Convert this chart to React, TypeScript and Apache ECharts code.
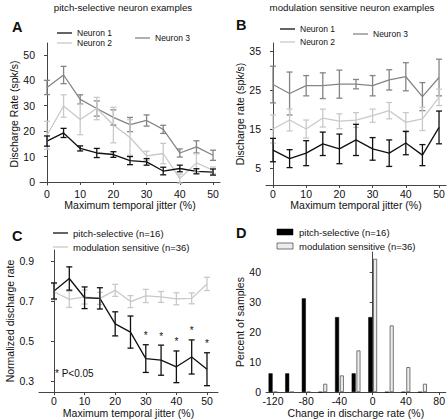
import React, { useEffect, useRef } from "react";
import * as echarts from "echarts";

const jitter = [0, 5, 10, 15, 20, 25, 30, 35, 40, 45, 50];

// Panel A: pitch-selective neuron examples (spk/s)
const aNeuron1 = [16.1, 19.3, 13.2, 11.4, 10.8, 8.4, 7.9, 4.3, 5.3, 4.2, 3.9];
const aNeuron1Err = [2, 1.8, 1, 1.8, 1.1, 1.6, 1.3, 1.5, 1.3, 1, 1.2];
const aNeuron2 = [18.4, 29.9, 24.6, 28.9, 22.4, 17.5, 10.3, 11.2, 1.3, 7.5, 4.6];
const aNeuron2Err = [5.5, 4.4, 6, 4.4, 7, 7, 1.8, 4, 1.8, 3.6, 1.3];
const aNeuron3 = [37.2, 42.1, 32.5, 28.9, 25.4, 22.6, 24.2, 20.7, 11.4, 13.8, 10.5];
const aNeuron3Err = [2.8, 3.4, 1.8, 3, 3, 2.8, 2.2, 1.6, 1.6, 2.4, 2];

// Panel B: modulation sensitive neuron examples (spk/s)
const bNeuron1 = [9.6, 7.4, 8.8, 11.2, 9.9, 12.2, 9.9, 8.8, 11.4, 8.3, 15.4];
const bNeuron1Err = [3, 2.3, 3.2, 3, 3.8, 4, 2.9, 3.4, 3, 2.7, 4.2];
const bNeuron2 = [15, 17.3, 15, 17.8, 17, 17.3, 18.4, 19.7, 16.7, 17.6, 23.1];
const bNeuron2Err = [3.6, 2.8, 2.3, 2.3, 1.9, 1.9, 1.7, 2.1, 2.5, 3, 2.1];
const bNeuron3 = [26.4, 24.1, 26.1, 26.1, 26.5, 26.5, 26.1, 27.6, 28.4, 23.3, 28.2];
const bNeuron3Err = [4.7, 5.5, 2.6, 3.3, 3.6, 1.2, 2.6, 2.6, 3.6, 3.6, 4.7];

// Panel C: normalized discharge rate
const cPitch = [0.75, 0.812, 0.716, 0.713, 0.586, 0.545, 0.413, 0.405, 0.372, 0.421, 0.36];
const cPitchErr = [0.04, 0.058, 0.054, 0.053, 0.06, 0.08, 0.069, 0.075, 0.079, 0.085, 0.082];
const cMod = [0.746, 0.708, 0.72, 0.713, 0.753, 0.697, 0.725, 0.72, 0.711, 0.713, 0.785];
const cModErr = [0.04, 0.04, 0.035, 0.03, 0.03, 0.03, 0.033, 0.027, 0.03, 0.027, 0.033];
const cSignificant = [30, 35, 40, 45, 50];

// Panel D: histogram of change in discharge rate (%)
const dBins = [-120, -100, -80, -60, -40, -20, 0, 20, 40, 60];
const dPitch = [6.25, 6.25, 31.25, 0, 25, 6.25, 25, 0, 0, 0];
const dMod = [0, 0, 0, 2.78, 5.56, 13.89, 44.44, 22.22, 8.33, 2.78];

// Tick labels
const abxTicks = [0, 10, 20, 30, 40, 50];
const aYTicks = [0, 10, 20, 30, 40, 50];
const bYTicks = [5, 15, 25, 35];
const cYTicks = [0.3, 0.5, 0.7, 0.9];
const dXTicks = [-120, -80, -40, 0, 40, 80];
const dYTicks = [0, 10, 20, 30, 40];

const FONT = "Liberation Sans, Arial, sans-serif";
const C1 = "#111111";
const C2 = "#c9c9c9";
const C3 = "#858585";
const AXIS = "#444444";
const TICK_FS = 10.5;
const NAME_FS = 10.5;

function axis(extra: any, ticks: number[], isY: boolean, name: string, nameGap: number, fmt?: (v: number) => string) {
  return {
    type: "value",
    name,
    nameLocation: "middle",
    nameGap,
    nameTextStyle: { fontFamily: FONT, fontSize: NAME_FS, color: "#111" },
    splitLine: { show: false },
    axisLine: { show: true, lineStyle: { color: AXIS, width: 1 } },
    axisTick: { show: true, length: 3, lineStyle: { color: AXIS }, customValues: ticks },
    axisLabel: {
      fontFamily: FONT,
      fontSize: TICK_FS,
      color: "#111",
      margin: isY ? 5 : 3,
      customValues: ticks,
      formatter: fmt || ((v: number) => String(v)),
    },
    ...extra,
  };
}

function lineSeries(idx: number, means: number[], color: string) {
  return {
    type: "line",
    xAxisIndex: idx,
    yAxisIndex: idx,
    data: jitter.map((x, i) => [x, means[i]]),
    symbol: "none",
    color,
    lineStyle: { color, width: 1.3 },
    z: 3,
  };
}

function errSeries(idx: number, means: number[], errs: number[], color: string, cap = 3) {
  return {
    type: "custom",
    xAxisIndex: idx,
    yAxisIndex: idx,
    color,
    data: jitter.map((x, i) => [x, means[i] - errs[i], means[i] + errs[i]]),
    encode: { x: 0, y: [1, 2] },
    z: 4,
    renderItem: (params: any, api: any) => {
      const x = api.value(0);
      const lo = api.coord([x, api.value(1)]);
      const hi = api.coord([x, api.value(2)]);
      const st = { stroke: color, lineWidth: 1.3 };
      return {
        type: "group",
        children: [
          { type: "line", shape: { x1: lo[0], y1: lo[1], x2: hi[0], y2: hi[1] }, style: st },
          { type: "line", shape: { x1: lo[0] - cap, y1: lo[1], x2: lo[0] + cap, y2: lo[1] }, style: st },
          { type: "line", shape: { x1: hi[0] - cap, y1: hi[1], x2: hi[0] + cap, y2: hi[1] }, style: st },
        ],
      };
    },
  };
}

function label(x: number, y: number, text: string, size: number, bold = false, align = "left") {
  return {
    type: "text",
    x,
    y,
    style: {
      text,
      fontFamily: FONT,
      fontSize: size,
      fontWeight: bold ? "bold" : "normal",
      fill: "#111",
      align,
      textAlign: align,
      verticalAlign: "middle",
      textVerticalAlign: "middle",
    },
  };
}

function legendLine(x: number, y: number, color: string, text: string, size: number) {
  return [
    { type: "line", shape: { x1: x, y1: y, x2: x + 15, y2: y }, style: { stroke: color, lineWidth: 1.3 } },
    label(x + 20, y, text, size),
  ];
}

export default function App() {
  const ref = useRef<HTMLDivElement>(null);
  useEffect(() => {
    document.body.style.margin = "0";
    const chart = echarts.init(ref.current!, null, { renderer: "svg" });
    const option: any = {
      animation: false,
      backgroundColor: "#ffffff",
      color: ["#111111"],
      grid: [
        { left: 40, top: 43, width: 180, height: 142 },
        { left: 266, top: 43, width: 180, height: 142 },
        { left: 39, top: 250, width: 179, height: 144 },
        { left: 266, top: 252, width: 180, height: 142 },
      ],
      xAxis: [
        axis({ gridIndex: 0, min: -2.1, max: 52.1 }, abxTicks, false, "Maximum temporal jitter (%)", 11),
        axis({ gridIndex: 1, min: -2.1, max: 52.1 }, abxTicks, false, "Maximum temporal jitter (%)", 11),
        axis({ gridIndex: 2, min: -4.9, max: 53.6 }, abxTicks, false, "Maximum temporal jitter (%)", 9.5),
        axis({ gridIndex: 3, min: -128.4, max: 88 }, dXTicks, false, "Change in discharge rate (%)", 14.5),
      ],
      yAxis: [
        axis({ gridIndex: 0, min: -1.2, max: 54.7 }, aYTicks, true, "Discharge Rate (spk/s)", 17),
        axis({ gridIndex: 1, min: 0.64, max: 37.05 }, bYTicks, true, "Discharge rate (spk/s)", 18),
        axis({ gridIndex: 2, min: 0.246, max: 0.954 }, cYTicks, true, "Normalized discharge rate", 18, (v: number) => v.toFixed(1)),
        axis({ gridIndex: 3, min: 0, max: 46.7 }, dYTicks, true, "Percent of samples", 14),
      ],
      series: [
        lineSeries(0, aNeuron3, C3),
        errSeries(0, aNeuron3, aNeuron3Err, C3),
        lineSeries(0, aNeuron2, C2),
        errSeries(0, aNeuron2, aNeuron2Err, C2),
        lineSeries(0, aNeuron1, C1),
        errSeries(0, aNeuron1, aNeuron1Err, C1),

        lineSeries(1, bNeuron3, C3),
        errSeries(1, bNeuron3, bNeuron3Err, C3),
        lineSeries(1, bNeuron2, C2),
        errSeries(1, bNeuron2, bNeuron2Err, C2),
        lineSeries(1, bNeuron1, C1),
        errSeries(1, bNeuron1, bNeuron1Err, C1),

        lineSeries(2, cMod, C2),
        errSeries(2, cMod, cModErr, C2),
        lineSeries(2, cPitch, C1),
        errSeries(2, cPitch, cPitchErr, C1),
        {
          // significance asterisks above the pitch-selective error bars
          type: "custom",
          xAxisIndex: 2,
          yAxisIndex: 2,
          z: 5,
          color: "#111111",
          itemStyle: { color: "#111111" },
          data: cSignificant.map((x) => {
            const i = jitter.indexOf(x);
            return [x, cPitch[i] + cPitchErr[i]];
          }),
          renderItem: (params: any, api: any) => {
            const p = api.coord([api.value(0), api.value(1)]);
            return {
              type: "text",
              x: p[0],
              y: p[1] - 9,
              style: {
                text: "*",
                fontFamily: FONT,
                fontSize: 10,
                fill: "#111111",
                stroke: "none",
                lineWidth: 0,
                align: "center",
                verticalAlign: "middle",
              },
            };
          },
        },

        {
          type: "bar",
          xAxisIndex: 3,
          yAxisIndex: 3,
          barWidth: 4,
          barGap: "20%",
          data: dBins.map((b, i) => [b, dPitch[i]]),
          itemStyle: { color: "#000000", borderColor: "#000000", borderWidth: 0.5 },
        },
        {
          type: "bar",
          xAxisIndex: 3,
          yAxisIndex: 3,
          barWidth: 4,
          barGap: "20%",
          data: dBins.map((b, i) => [b, dMod[i]]),
          itemStyle: { color: "#ececec", borderColor: "#555555", borderWidth: 0.8 },
        },
      ],
      graphic: [
        label(123, 7, "pitch-selective neuron examples", 9.7, false, "center"),
        label(352, 7, "modulation sensitive neuron examples", 9.7, false, "center"),
        label(12, 27, "A", 14.5, true),
        label(236, 25, "B", 14.5, true),
        label(12, 236, "C", 14.5, true),
        label(236, 233, "D", 14.5, true),
        ...legendLine(57, 33, C1, "Neuron 1", 8.5),
        ...legendLine(57, 43, C2, "Neuron 2", 8.5),
        ...legendLine(135, 38, C3, "Neuron 3", 8.5),
        ...legendLine(280, 29, C1, "Neuron 1", 8.5),
        ...legendLine(280, 42, C2, "Neuron 2", 8.5),
        ...legendLine(353, 34, C3, "Neuron 3", 8.5),
        ...legendLine(53, 233, C1, "pitch-selective (n=16)", 9.5),
        ...legendLine(53, 247, C2, "modulation sensitive (n=36)", 9.5),
        { type: "rect", shape: { x: 277, y: 229, width: 16, height: 6 }, style: { fill: "#000", stroke: "#000", lineWidth: 0.5 } },
        label(299, 232, "pitch-selective (n=16)", 9.5),
        { type: "rect", shape: { x: 277, y: 243, width: 16, height: 6 }, style: { fill: "#ececec", stroke: "#555", lineWidth: 0.8 } },
        label(299, 246, "modulation sensitive (n=36)", 9.5),
        label(55, 373, "* P<0.05", 10),
      ],
    };
    chart.setOption(option);
    return () => chart.dispose();
  }, []);
  return <div ref={ref} style={{ width: 448, height: 419 }} />;
}
